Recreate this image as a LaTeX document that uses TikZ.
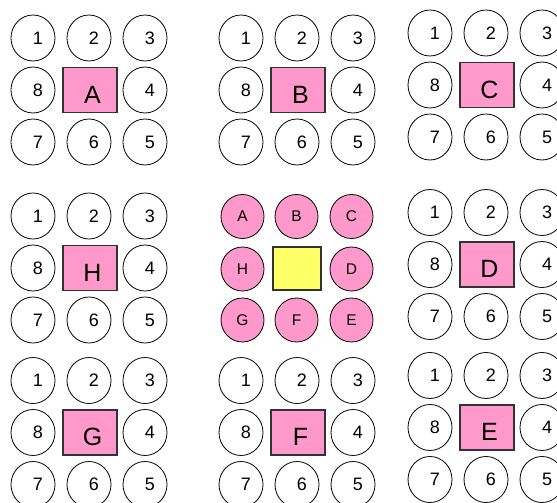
\documentclass[tikz,border=0pt]{standalone}
\usepackage{fontspec}
\setmainfont{Liberation Sans}
\usetikzlibrary{shapes.geometric}
\definecolor{pinkfill}{HTML}{FF99CC}
\definecolor{yellowfill}{HTML}{FFFF66}
\definecolor{boxline}{HTML}{333333}
\tikzset{
  numcirc/.style={draw=black, line width=0.8pt, ellipse, minimum width=44pt, minimum height=46pt, inner sep=0pt, font=\fontsize{18}{18}\selectfont},
  letcirc/.style={draw=black, line width=0.8pt, fill=pinkfill, ellipse, minimum width=43pt, minimum height=44pt, inner sep=0pt, font=\fontsize{15.5}{15.5}\selectfont},
  pinkbox/.style={draw=boxline, line width=1.2pt, fill=pinkfill, rectangle, minimum width=54pt, minimum height=45pt, inner sep=0pt},
  yellowbox/.style={draw=boxline, line width=1.2pt, fill=yellowfill, rectangle, minimum width=48pt, minimum height=43pt, inner sep=0pt},
  boxletter/.style={inner sep=0pt, font=\fontsize{25}{25}\selectfont}
}
\newcommand\drawgroup[4]{%
  \node[pinkbox] (#1box) at (#2,#3) {};
  \node[boxletter] (#1let) at ([shift={(2.5,4.5)}]#1box.center) {#4};
  \node[numcirc] (#1n1) at (#2-57,#3-52) {\kern10pt 1};
  \node[numcirc] (#1n2) at (#2-1,#3-52) {\kern10pt 2};
  \node[numcirc] (#1n3) at (#2+55,#3-52) {\kern10pt 3};
  \node[numcirc] (#1n8) at (#2-57,#3) {\kern10pt 8};
  \node[numcirc] (#1n4) at (#2+55,#3) {\kern10pt 4};
  \node[numcirc] (#1n7) at (#2-57,#3+52) {\kern10pt 7};
  \node[numcirc] (#1n6) at (#2-1,#3+52) {\kern10pt 6};
  \node[numcirc] (#1n5) at (#2+55,#3+52) {\kern10pt 5};
}
\begin{document}
\begin{tikzpicture}[x=1pt,y=-1pt]
  \useasboundingbox (0,0) rectangle (557,503);
  \fill[white] (0,0) rectangle (557,503);
  \drawgroup{A}{90}{90}{A}
  \drawgroup{B}{298}{90}{B}
  \drawgroup{C}{487}{85}{C}
  \drawgroup{H}{90}{268}{H}
  \drawgroup{D}{487}{264.5}{D}
  \drawgroup{G}{90}{432.5}{G}
  \drawgroup{F}{298}{432.5}{F}
  \drawgroup{E}{487}{427.5}{E}
  % centre group
  \node[yellowbox] (centre) at (297,268.5) {};
  \node[letcirc] (cA) at (242.5,216.5) {A};
  \node[letcirc] (cB) at (296.5,216.5) {B};
  \node[letcirc] (cC) at (351.5,216.5) {C};
  \node[letcirc] (cH) at (242.5,269) {H};
  \node[letcirc] (cD) at (351.5,269) {D};
  \node[letcirc] (cG) at (242.5,320) {G};
  \node[letcirc] (cF) at (296.5,320) {F};
  \node[letcirc] (cE) at (351.5,320) {E};
\end{tikzpicture}
\end{document}
